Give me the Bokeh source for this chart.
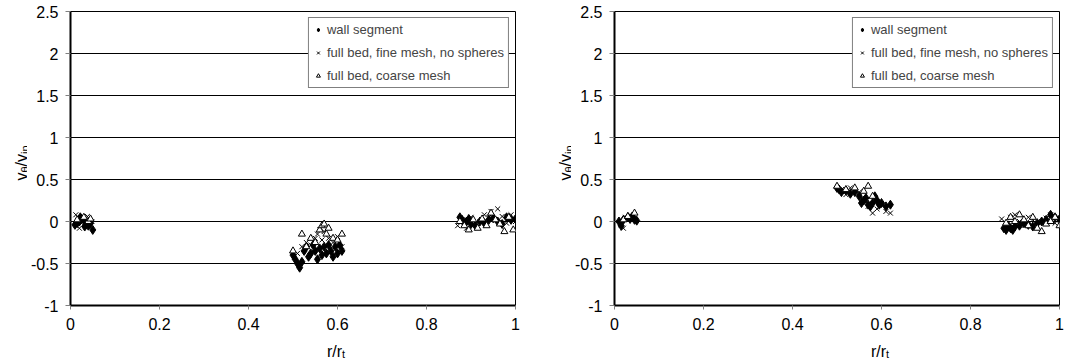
import numpy as np
from bokeh.plotting import figure
from bokeh.models import Range1d, Label, Legend, LegendItem, FixedTicker, CustomJSTickFormatter
from bokeh.layouts import row, column
from bokeh.embed import file_html
from bokeh.resources import INLINE

series_names = ["wall segment", "full bed, fine mesh, no spheres", "full bed, coarse mesh"]
x_ticks = [0, 0.2, 0.4, 0.6, 0.8, 1]
y_ticks = [-1, -0.5, 0, 0.5, 1, 1.5, 2, 2.5]

# ---------------- left panel ----------------
left_wall_r = [0.010, 0.015, 0.020, 0.022, 0.025, 0.030, 0.032, 0.035, 0.040, 0.045, 0.050,
               0.500, 0.505, 0.510, 0.515, 0.520, 0.525, 0.530, 0.535, 0.540, 0.545, 0.550, 0.555,
               0.560, 0.565, 0.570, 0.575, 0.580, 0.585, 0.590, 0.595, 0.600, 0.605, 0.610,
               0.875, 0.880, 0.885, 0.890, 0.895, 0.900, 0.910, 0.920, 0.930, 0.940, 0.950,
               0.960, 0.970, 0.980, 0.990, 1.000]
left_wall_v = [-0.04, -0.02, 0.00, 0.05, 0.03, 0.02, -0.06, -0.03, -0.05, -0.02, -0.10,
               -0.40, -0.45, -0.50, -0.55, -0.48, -0.35, -0.30, -0.42, -0.38, -0.28, -0.35, -0.45,
               -0.32, -0.40, -0.30, -0.38, -0.28, -0.35, -0.42, -0.30, -0.38, -0.28, -0.35,
               0.05, 0.02, -0.02, 0.00, 0.03, -0.03, -0.05, 0.00, -0.02, 0.02, 0.04,
               0.00, -0.03, 0.05, 0.02, 0.03]

left_fine_r = [0.012, 0.020, 0.025, 0.028, 0.035, 0.038, 0.042, 0.048,
               0.510, 0.520, 0.530, 0.540, 0.550, 0.555, 0.560, 0.565, 0.570, 0.580, 0.590, 0.600, 0.610,
               0.870, 0.880, 0.890, 0.900, 0.910, 0.920, 0.930, 0.940, 0.945, 0.950, 0.960, 0.970,
               0.980, 0.990, 1.000]
left_fine_v = [0.08, -0.08, -0.02, 0.05, -0.05, 0.06, 0.02, 0.00,
               -0.38, -0.30, -0.25, -0.28, -0.20, -0.15, -0.10, -0.22, -0.12, -0.20, -0.25, -0.18, -0.30,
               -0.05, 0.02, -0.08, 0.05, -0.02, 0.00, 0.08, 0.05, 0.12, 0.03, 0.15, 0.06,
               -0.02, 0.08, 0.00]

left_coarse_r = [0.015, 0.030, 0.040, 0.045,
                 0.500, 0.520, 0.530, 0.540, 0.550, 0.560, 0.565, 0.570, 0.575, 0.580, 0.590, 0.600, 0.610,
                 0.875, 0.885, 0.895, 0.905, 0.915, 0.925, 0.935, 0.945, 0.955, 0.965, 0.975, 0.985, 0.995]
left_coarse_v = [0.02, 0.05, 0.00, 0.03,
                 -0.35, -0.15, -0.30, -0.20, -0.25, -0.10, -0.05, -0.03, -0.15, -0.08, -0.20, -0.22, -0.15,
                 0.00, -0.05, -0.10, 0.02, -0.08, 0.03, -0.05, 0.10, 0.02, -0.03, -0.12, 0.05, -0.10]

# ---------------- right panel ----------------
right_wall_r = [0.010, 0.015, 0.020, 0.030, 0.035, 0.040, 0.045, 0.050,
                0.500, 0.505, 0.510, 0.520, 0.530, 0.540, 0.550, 0.555, 0.560, 0.565, 0.570, 0.575,
                0.580, 0.585, 0.590, 0.595, 0.600, 0.610, 0.620,
                0.875, 0.880, 0.885, 0.890, 0.895, 0.900, 0.910, 0.920, 0.930, 0.940, 0.950,
                0.960, 0.970, 0.980, 0.990, 1.000]
right_wall_v = [0.00, -0.05, 0.02, 0.05, 0.03, 0.06, 0.02, 0.01,
                0.40, 0.38, 0.35, 0.37, 0.33, 0.35, 0.30, 0.22, 0.25, 0.28, 0.20, 0.18,
                0.22, 0.30, 0.25, 0.20, 0.22, 0.18, 0.20,
                -0.08, -0.10, -0.05, -0.08, -0.10, -0.06, -0.05, -0.02, -0.04, -0.06, -0.02,
                0.00, 0.02, 0.08, 0.05, 0.03]

right_fine_r = [0.015, 0.020, 0.025, 0.035,
                0.510, 0.520, 0.530, 0.550, 0.560, 0.570, 0.580, 0.590, 0.600, 0.610, 0.620,
                0.870, 0.880, 0.890, 0.900, 0.910, 0.920, 0.930, 0.940, 0.950, 0.960, 0.970,
                0.980, 0.990, 1.000]
right_fine_v = [-0.04, -0.08, 0.05, 0.08,
                0.38, 0.32, 0.40, 0.35, 0.25, 0.18, 0.10, 0.15, 0.20, 0.12, 0.10,
                0.03, -0.02, 0.05, 0.08, 0.00, -0.05, 0.05, 0.02, -0.06, 0.00, 0.04,
                0.08, -0.02, 0.02]

right_coarse_r = [0.020, 0.030, 0.045,
                  0.500, 0.520, 0.540, 0.560, 0.570, 0.580,
                  0.880, 0.890, 0.900, 0.910, 0.920, 0.930, 0.940, 0.950, 0.960, 0.970,
                  0.980, 0.990, 1.000]
right_coarse_v = [0.02, 0.06, 0.10,
                  0.42, 0.38, 0.40, 0.36, 0.42, 0.30,
                  -0.02, 0.05, 0.00, 0.08, 0.02, -0.05, 0.05, -0.08, -0.12, -0.03,
                  0.00, 0.05, -0.05]

FONT = "Liberation Sans"
YT_W = 27          # width of the y-title strip
BORDER_L = 43      # room for the y tick labels
FRAME_W, FRAME_H = 445, 294
TOP, BOTTOM = 11, 31
XT_H = 358 - (TOP + FRAME_H + BOTTOM)   # height of the x-title strip (22)


def blank_fig(w, h):
    f = figure(width=w, height=h, x_range=Range1d(0, 1), y_range=Range1d(0, 1),
               min_border=0, output_backend="svg", toolbar_location=None,
               x_axis_location=None, y_axis_location=None)
    f.outline_line_color = None
    f.xgrid.visible = False
    f.ygrid.visible = False
    f.background_fill_color = "white"
    f.border_fill_color = "white"
    return f


def make_ytitle(baseline_x):
    f = blank_fig(YT_W, 358)
    y0 = 358 - 180
    # each part is anchored at its upper end (text runs bottom-to-top)
    parts = [("v", 16, 8.0, 0), ("θ", 11, 14.0, 3.5), ("/", 16, 18.5, 0),
             ("v", 16, 26.5, 0), ("in", 11, 35.0, 3.5)]
    for t, fs, dy, dx in parts:
        f.add_layout(Label(x=baseline_x + dx, y=y0 + dy, x_units="screen", y_units="screen",
                           text=t, angle=np.pi / 2, text_font=FONT, text_font_size=f"{fs}px",
                           text_align="right", text_baseline="alphabetic", text_color="black"))
    return f


def make_xtitle(width):
    f = blank_fig(width, XT_H)
    cx = BORDER_L + FRAME_W / 2
    f.add_layout(Label(x=cx - 9, y=7.5, x_units="screen", y_units="screen", text="r/r",
                       text_font=FONT, text_font_size="16px", text_align="left",
                       text_baseline="alphabetic", text_color="black"))
    f.add_layout(Label(x=cx + 6, y=4.5, x_units="screen", y_units="screen", text="t",
                       text_font=FONT, text_font_size="11px", text_align="left",
                       text_baseline="alphabetic", text_color="black"))
    return f


def make_panel(wall, fine, coarse, border_right):
    p = figure(frame_width=FRAME_W, frame_height=FRAME_H,
               min_border_left=BORDER_L, min_border_right=border_right,
               min_border_top=TOP, min_border_bottom=BOTTOM,
               x_range=Range1d(0, 1), y_range=Range1d(-1, 2.5),
               output_backend="svg", toolbar_location=None)
    p.background_fill_color = "white"
    p.border_fill_color = "white"
    p.outline_line_color = "black"
    p.outline_line_width = 1
    p.outline_line_alpha = 1

    fmt = CustomJSTickFormatter(code="return tick.toString();")
    p.xaxis.ticker = FixedTicker(ticks=x_ticks)
    p.yaxis.ticker = FixedTicker(ticks=y_ticks)
    p.xaxis.formatter = fmt
    p.yaxis.formatter = fmt
    for ax in (p.xaxis, p.yaxis):
        ax.axis_line_color = "black"
        ax.axis_line_width = 2
        ax.major_tick_line_color = "#808080"
        ax.major_tick_in = 0
        ax.minor_tick_line_color = None
        ax.major_label_text_font = FONT
        ax.major_label_text_font_size = "16px"
        ax.major_label_text_color = "black"
    p.yaxis.major_tick_out = 5
    p.yaxis.major_label_standoff = 7
    p.xaxis.major_tick_out = 4
    p.xaxis.major_label_standoff = 8

    p.xgrid.visible = False
    p.ygrid.ticker = FixedTicker(ticks=y_ticks)
    p.ygrid.grid_line_color = "black"
    p.ygrid.grid_line_width = 1

    r1 = p.scatter(wall[0], wall[1], marker="diamond", size=9, fill_color="black", line_color="black")
    r2 = p.scatter(fine[0], fine[1], marker="x", size=7, line_color="black", line_width=1)
    r3 = p.scatter(coarse[0], coarse[1], marker="triangle", size=7, fill_color="white",
                   line_color="black", line_width=1)

    legend = Legend(items=[LegendItem(label=series_names[0], renderers=[r1]),
                           LegendItem(label=series_names[1], renderers=[r2]),
                           LegendItem(label=series_names[2], renderers=[r3])],
                    location="top_right", margin=6, padding=4, spacing=8,
                    glyph_width=10, glyph_height=15, label_height=15, label_standoff=4,
                    label_text_font=FONT, label_text_font_size="13px",
                    border_line_color="black", border_line_width=1,
                    background_fill_color="white", background_fill_alpha=1)
    p.add_layout(legend)
    return p


RB_LEFT, RB_RIGHT = 29, 6
p_left = make_panel((left_wall_r, left_wall_v), (left_fine_r, left_fine_v),
                    (left_coarse_r, left_coarse_v), RB_LEFT)
p_right = make_panel((right_wall_r, right_wall_v), (right_fine_r, right_fine_v),
                     (right_coarse_r, right_coarse_v), RB_RIGHT)

left_group = row(make_ytitle(20.5), column(p_left, make_xtitle(BORDER_L + FRAME_W + RB_LEFT)))
right_group = row(make_ytitle(20.5), column(p_right, make_xtitle(BORDER_L + FRAME_W + RB_RIGHT)))
layout = row(left_group, right_group)
open("out.html", "w").write(file_html(layout, INLINE))
